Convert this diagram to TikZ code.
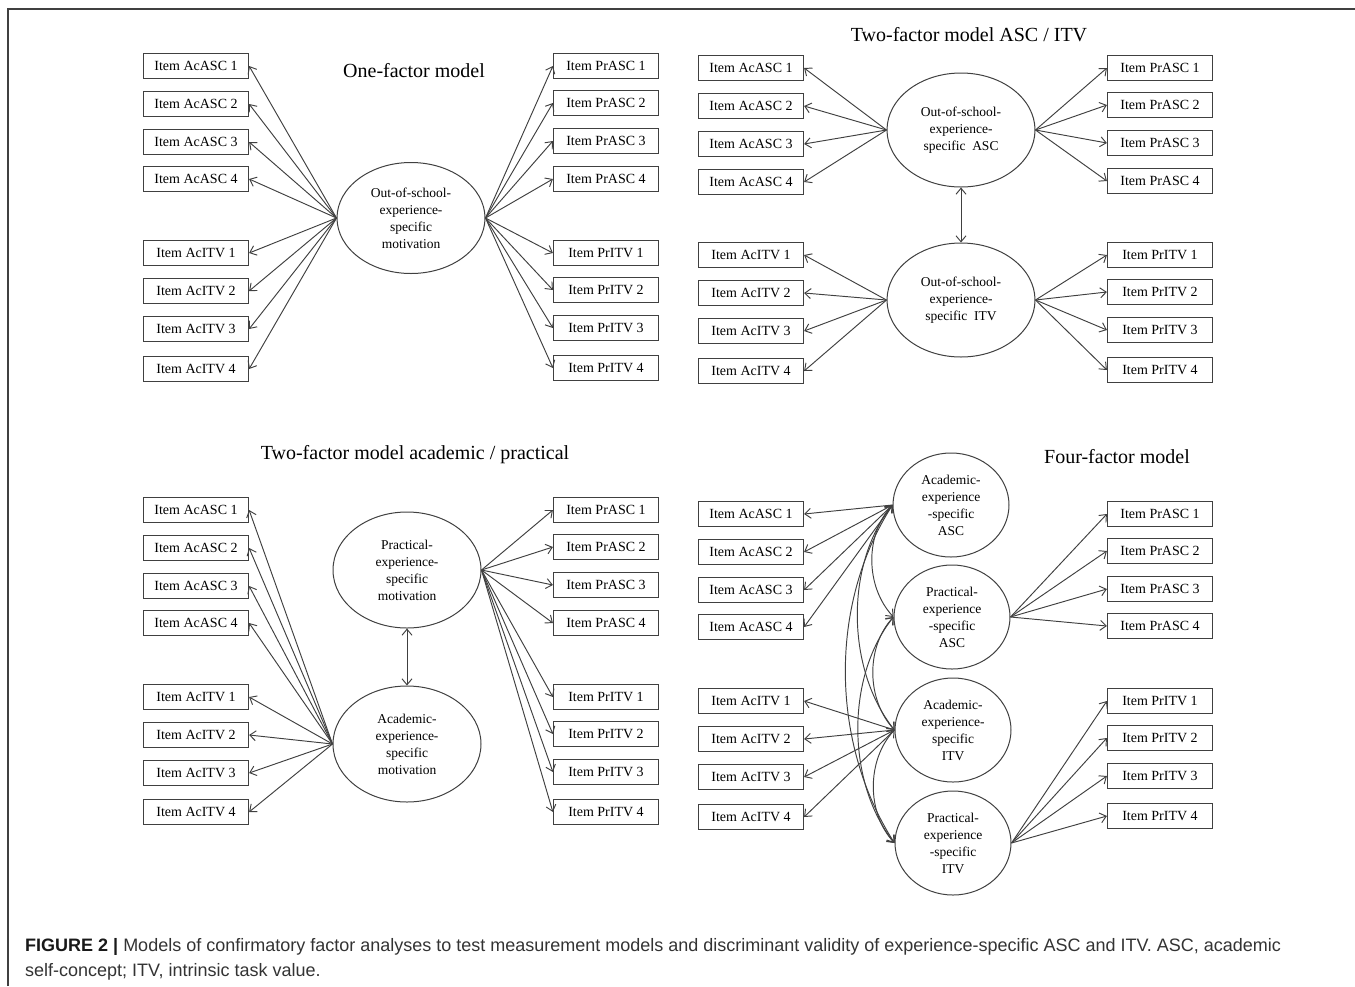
\documentclass[tikz,border=0pt]{standalone}
\usepackage{fontspec}
\setmainfont{Liberation Serif}
\newfontfamily\capfont{Liberation Sans}
\usetikzlibrary{shapes.geometric,arrows.meta}
\begin{document}
\begin{tikzpicture}[x=1pt,y=-1pt,
  item/.style={draw=black!75, line width=1.2pt, minimum width=105pt, minimum height=25pt, inner sep=0pt, font=\fontsize{14}{16}\selectfont},
  lat/.style={ellipse, draw=black!75, line width=1pt, inner sep=0pt, align=center, font=\fontsize{13.5}{17}\selectfont},
  ln/.style={draw=black!75, line width=0.95pt, -{Straight Barb[length=6pt,width=10pt]}},
  dbl/.style={draw=black!75, line width=0.95pt, {Straight Barb[length=6pt,width=10pt]}-{Straight Barb[length=6pt,width=10pt]}},
  ttl/.style={font=\fontsize{20}{24}\selectfont, inner sep=0pt}]
\useasboundingbox (0,0) rectangle (1355,986);
\draw[black!75, line width=1.5pt] (8,986) -- (8,9) -- (1355,9);

% ---------- Panel A: one-factor ----------
\node[ttl] (ta) at (414,71) {One-factor model};
\node[lat, minimum width=148pt, minimum height=111pt] (af) at (411,218) {Out-of-school-\\experience-\\specific\\motivation};
\foreach \y/\t [count=\i] in {66/AcASC 1,104/AcASC 2,142/AcASC 3,179/AcASC 4,253/AcITV 1,291/AcITV 2,329/AcITV 3,369/AcITV 4}
  \node[item] (al\i) at (196,\y) {Item \t};
\foreach \y/\t [count=\i] in {66/PrASC 1,103/PrASC 2,141/PrASC 3,179/PrASC 4,253/PrITV 1,290/PrITV 2,328/PrITV 3,368/PrITV 4}
  \node[item] (ar\i) at (606,\y) {Item \t};
\foreach \i in {1,...,8} {
  \draw[ln] (af.west) -- (al\i.east);
  \draw[ln] (af.east) -- (ar\i.west);
}

% ---------- Panel B: two-factor ASC / ITV ----------
\node[ttl] (tb) at (969,35) {Two-factor model ASC / ITV};
\node[lat, minimum width=148pt, minimum height=114pt] (b1) at (961,130) {Out-of-school-\\experience-\\specific\ \ ASC};
\node[lat, minimum width=148pt, minimum height=114pt] (b2) at (961,300) {Out-of-school-\\experience-\\specific\ \ ITV};
\foreach \y/\t [count=\i] in {68/AcASC 1,106/AcASC 2,144/AcASC 3,182/AcASC 4,255/AcITV 1,293/AcITV 2,331/AcITV 3,371/AcITV 4}
  \node[item] (bl\i) at (751,\y) {Item \t};
\foreach \y/\t [count=\i] in {68/PrASC 1,105/PrASC 2,143/PrASC 3,181/PrASC 4,255/PrITV 1,292/PrITV 2,330/PrITV 3,370/PrITV 4}
  \node[item] (br\i) at (1160,\y) {Item \t};
\foreach \i in {1,...,4} {
  \draw[ln] (b1.west) -- (bl\i.east);
  \draw[ln] (b1.east) -- (br\i.west);
}
\foreach \i in {5,...,8} {
  \draw[ln] (b2.west) -- (bl\i.east);
  \draw[ln] (b2.east) -- (br\i.west);
}
\draw[dbl] (b1.south) -- (b2.north);

% ---------- Panel C: two-factor academic / practical ----------
\node[ttl] (tc) at (415,455) {Two-factor model academic / practical};
\node[lat, minimum width=148pt, minimum height=116pt] (c1) at (407,570) {Practical-\\experience-\\specific\\motivation};
\node[lat, minimum width=148pt, minimum height=116pt] (c2) at (407,744) {Academic-\\experience-\\specific\\motivation};
\foreach \y/\t [count=\i] in {510/AcASC 1,548/AcASC 2,586/AcASC 3,623/AcASC 4,697/AcITV 1,735/AcITV 2,773/AcITV 3,812/AcITV 4}
  \node[item] (cl\i) at (196,\y) {Item \t};
\foreach \y/\t [count=\i] in {510/PrASC 1,547/PrASC 2,585/PrASC 3,623/PrASC 4,697/PrITV 1,734/PrITV 2,772/PrITV 3,812/PrITV 4}
  \node[item] (cr\i) at (606,\y) {Item \t};
\foreach \i in {1,...,8} {
  \draw[ln] (c2.west) -- (cl\i.east);
  \draw[ln] (c1.east) -- (cr\i.west);
}
\draw[dbl] (c1.south) -- (c2.north);

% ---------- Panel D: four-factor ----------
\node[ttl] (td) at (1117,457) {Four-factor model};
\node[lat, minimum width=116pt, minimum height=104pt] (d1) at (951,505) {Academic-\\experience\\-specific\\ASC};
\node[lat, minimum width=116pt, minimum height=104pt] (d2) at (952,617) {Practical-\\experience\\-specific\\ASC};
\node[lat, minimum width=116pt, minimum height=104pt] (d3) at (953,730) {Academic-\\experience-\\specific\\ITV};
\node[lat, minimum width=116pt, minimum height=104pt] (d4) at (953,843) {Practical-\\experience\\-specific\\ITV};
\foreach \y/\t [count=\i] in {514/AcASC 1,552/AcASC 2,590/AcASC 3,627/AcASC 4,701/AcITV 1,739/AcITV 2,777/AcITV 3,817/AcITV 4}
  \node[item] (dl\i) at (751,\y) {Item \t};
\foreach \y/\t [count=\i] in {514/PrASC 1,551/PrASC 2,589/PrASC 3,626/PrASC 4,701/PrITV 1,738/PrITV 2,776/PrITV 3,816/PrITV 4}
  \node[item] (dr\i) at (1160,\y) {Item \t};
\foreach \i in {1,...,4} {
  \draw[ln] (d1.west) -- (dl\i.east);
  \draw[ln] (d2.east) -- (dr\i.west);
}
\foreach \i in {5,...,8} {
  \draw[ln] (d3.west) -- (dl\i.east);
  \draw[ln] (d4.east) -- (dr\i.west);
}
\draw[dbl] (d1.west) .. controls +(-28,30) and +(-28,-30) .. (d2.west);
\draw[dbl] (d2.west) .. controls +(-28,30) and +(-28,-30) .. (d3.west);
\draw[dbl] (d3.west) .. controls +(-28,30) and +(-28,-30) .. (d4.west);
\draw[dbl] (d1.west) .. controls +(-48,60) and +(-48,-60) .. (d3.west);
\draw[dbl] (d2.west) .. controls +(-48,60) and +(-48,-60) .. (d4.west);
\draw[dbl] (d1.west) .. controls +(-64,100) and +(-64,-100) .. (d4.west);

% ---------- Caption ----------
\node[anchor=base west, inner sep=0pt, text=black!80, font=\capfont\fontsize{18}{20}\selectfont] (cap1) at (25,951)
  {\textcolor{black!90}{\textbf{FIGURE 2 |}} Models of confirmatory factor analyses to test measurement models and discriminant validity of experience-specific ASC and ITV. ASC, academic};
\node[anchor=base west, inner sep=0pt, text=black!80, font=\capfont\fontsize{18}{20}\selectfont] (cap2) at (25,976)
  {self-concept; ITV, intrinsic task value.};
\end{tikzpicture}
\end{document}
